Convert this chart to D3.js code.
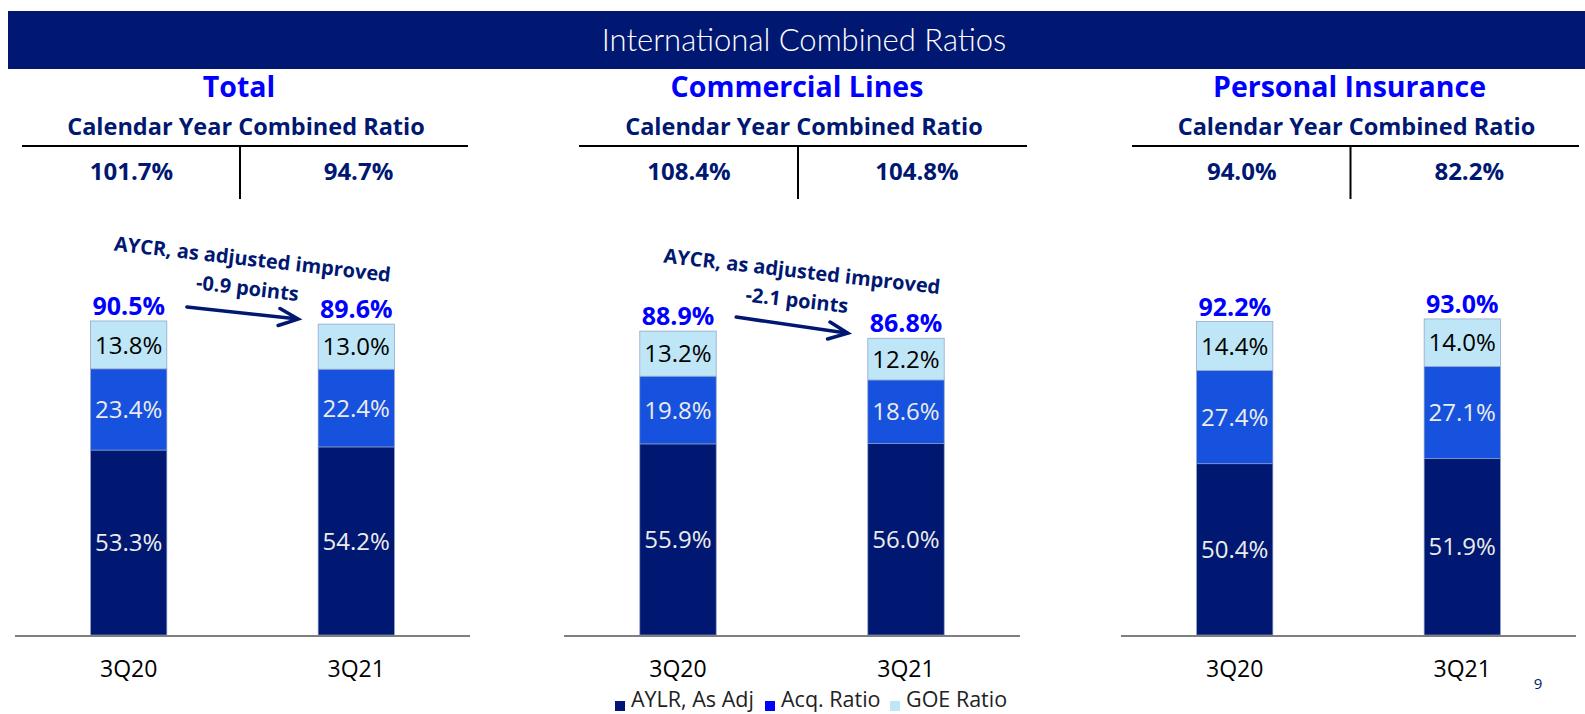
<!DOCTYPE html>
<html>
<head>
<meta charset="utf-8">
<script src="https://cdn.jsdelivr.net/npm/d3@7"></script>
<style>
  body { margin: 0; background: #fff; }
  svg { display: block; font-family: "Open Sans", "Noto Sans", sans-serif; }
</style>
</head>
<body>
<svg id="chart" width="1585" height="714"></svg>
<script>
// ---- data ----
const panels = ["Total", "Commercial Lines", "Personal Insurance"];
const quarters = ["3Q20", "3Q21"];
const calendarYearCR = [[101.7, 94.7], [108.4, 104.8], [94.0, 82.2]];
const aylr = [[53.3, 54.2], [55.9, 56.0], [50.4, 51.9]];
const acqRatio = [[23.4, 22.4], [19.8, 18.6], [27.4, 27.1]];
const goeRatio = [[13.8, 13.0], [13.2, 12.2], [14.4, 14.0]];
const improvement = ["-0.9 points", "-2.1 points", null];
const seriesNames = ["AYLR, As Adj", "Acq. Ratio", "GOE Ratio"];

// ---- layout ----
const svg = d3.select("#chart");
const navy = "#001871";
const brightBlue = "#0000ff";
const barColors = ["#001871", "#1652de", "#bfe6f6"];
const legendColors = ["#001871", "#0000ff", "#bfe6f6"];
const labelColors = ["#ececec", "#ececec", "#000"];

const baseY = 635, plotTop = 288;
// each Excel chart got its own auto axis max
const yMax = [100.0, 101.5, 102.1];
const axisRanges = [[15, 470], [564, 1020], [1121, 1576]];
const tableLeft = [22, 579, 1132], tableRight = [468, 1027, 1579];

// header band
svg.append("rect").attr("x", 8).attr("y", 11).attr("width", 1577).attr("height", 58).attr("fill", navy);
svg.append("text").attr("x", 804).attr("y", 40).attr("dy", "0.36em")
    .attr("text-anchor", "middle").attr("fill", "#fff")
    .style("font-family", "Lato, 'Open Sans', sans-serif")
    .style("font-size", "31px").style("font-weight", 300)
    .text("International Combined Ratios");

panels.forEach((name, p) => {
    const g = svg.append("g");
    const [x0, x1] = axisRanges[p];
    const tl = tableLeft[p], tr = tableRight[p];
    const midX = (tl + tr) / 2;

    // titles
    g.append("text").attr("x", midX - 6).attr("y", 87).attr("dy", "0.36em")
        .attr("text-anchor", "middle").attr("fill", brightBlue)
        .style("font-size", "28.5px").style("font-weight", 700).text(name);
    g.append("text").attr("x", midX + 1).attr("y", 127).attr("dy", "0.36em")
        .attr("text-anchor", "middle").attr("fill", navy)
        .style("font-size", "23.5px").style("font-weight", 700).text("Calendar Year Combined Ratio");

    // little T-table with the calendar year ratios
    const colX = d3.scaleBand().domain(quarters).range([tl, tr]);
    g.append("line").attr("x1", tl).attr("x2", tr).attr("y1", 146).attr("y2", 146)
        .attr("stroke", "#000").attr("stroke-width", 2);
    g.append("line").attr("x1", midX - 5).attr("x2", midX - 5).attr("y1", 146).attr("y2", 199)
        .attr("stroke", "#000").attr("stroke-width", 2);
    g.selectAll("text.cy").data(calendarYearCR[p]).join("text")
        .attr("class", "cy")
        .attr("x", (d, i) => colX(quarters[i]) + colX.bandwidth() / 2 - (i === 0 ? 2 : -2))
        .attr("y", 171).attr("dy", "0.36em").attr("text-anchor", "middle")
        .attr("fill", navy).style("font-size", "24px").style("font-weight", 700)
        .text(d => d.toFixed(1) + "%");

    // stacked bars
    const x = d3.scaleBand().domain(quarters).range([x0, x1]).paddingInner(0.665).paddingOuter(0.3325);
    const y = d3.scaleLinear().domain([0, yMax[p]]).range([baseY, plotTop]);
    const rows = quarters.map((q, i) => ({ q: q, aylr: aylr[p][i], acq: acqRatio[p][i], goe: goeRatio[p][i] }));
    const keys = ["aylr", "acq", "goe"];
    const stack = d3.stack().keys(keys)(rows);

    stack.forEach((layer, k) => {
        const lg = g.append("g");
        lg.selectAll("rect").data(layer).join("rect")
            .attr("x", d => x(d.data.q))
            .attr("y", d => y(d[1]))
            .attr("width", x.bandwidth())
            .attr("height", d => y(d[0]) - y(d[1]))
            .attr("fill", barColors[k])
            .attr("stroke", "#8a9cc8").attr("stroke-width", 0.7);
        lg.selectAll("text").data(layer).join("text")
            .attr("x", d => x(d.data.q) + x.bandwidth() / 2)
            .attr("y", d => y((d[0] + d[1]) / 2))
            .attr("dy", "0.36em").attr("text-anchor", "middle")
            .attr("fill", labelColors[k]).style("font-size", "24px")
            .text(d => (d[1] - d[0]).toFixed(1) + "%");
    });

    // totals on top
    const top = stack[stack.length - 1];
    g.selectAll("text.tot").data(top).join("text")
        .attr("class", "tot")
        .attr("x", d => x(d.data.q) + x.bandwidth() / 2)
        .attr("y", d => y(d[1]) - 6)
        .attr("text-anchor", "middle").attr("fill", brightBlue)
        .style("font-size", "25px").style("font-weight", 700)
        .text(d => d[1].toFixed(1) + "%");

    // category axis
    g.append("line").attr("x1", x0).attr("x2", x1).attr("y1", baseY + 1).attr("y2", baseY + 1)
        .attr("stroke", "#7f7f7f").attr("stroke-width", 2);
    g.selectAll("text.cat").data(quarters).join("text")
        .attr("class", "cat")
        .attr("x", d => x(d) + x.bandwidth() / 2).attr("y", 669).attr("dy", "0.36em")
        .attr("text-anchor", "middle").attr("fill", "#000").style("font-size", "23px")
        .text(d => d);

    // improvement arrow + note
    if (improvement[p]) {
        const ax1 = x(quarters[0]) + x.bandwidth() + 20, ay1 = y(top[0][1]) - 14;
        const ax2 = x(quarters[1]) - 20, ay2 = y(top[1][1]) - 5;
        const ang = Math.atan2(ay2 - ay1, ax2 - ax1);
        const head = 21, spread = 0.42;
        const arrow = d3.path();
        arrow.moveTo(ax1, ay1); arrow.lineTo(ax2, ay2);
        arrow.moveTo(ax2 - head * Math.cos(ang - spread), ay2 - head * Math.sin(ang - spread));
        arrow.lineTo(ax2, ay2);
        arrow.lineTo(ax2 - head * Math.cos(ang + spread), ay2 - head * Math.sin(ang + spread));
        g.append("path").attr("d", arrow.toString()).attr("fill", "none")
            .attr("stroke", navy).attr("stroke-width", 3.5).attr("stroke-linecap", "round");

        const mx = (ax1 + ax2) / 2, my = (ay1 + ay2) / 2;
        const note = g.append("g").attr("fill", navy).style("font-size", "20px").style("font-weight", 700)
            .attr("text-anchor", "middle");
        note.append("text").attr("transform", `translate(${mx + 10},${my - 54}) rotate(6.5)`)
            .attr("dy", "0.36em").text("AYCR, as adjusted improved");
        note.append("text").attr("transform", `translate(${mx + 5},${my - 25}) rotate(6.5)`)
            .attr("dy", "0.36em").text(improvement[p]);
    }
});

// legend (sits on the bottom edge of the slide)
const legendX = [615, 765, 890];
const leg = svg.append("g").selectAll("g").data(seriesNames).join("g")
    .attr("transform", (d, i) => `translate(${legendX[i]},699)`);
leg.append("rect").attr("x", 0).attr("y", 2).attr("width", 10).attr("height", 10)
    .attr("fill", (d, i) => legendColors[i]);
leg.append("text").attr("x", 16).attr("y", 0).attr("dy", "0.36em")
    .attr("fill", "#222").style("font-size", "21.5px").text(d => d);

// page number
svg.append("text").attr("x", 1538).attr("y", 684).attr("dy", "0.36em").attr("text-anchor", "middle")
    .attr("fill", navy).style("font-size", "15px").text("9");
</script>
</body>
</html>
